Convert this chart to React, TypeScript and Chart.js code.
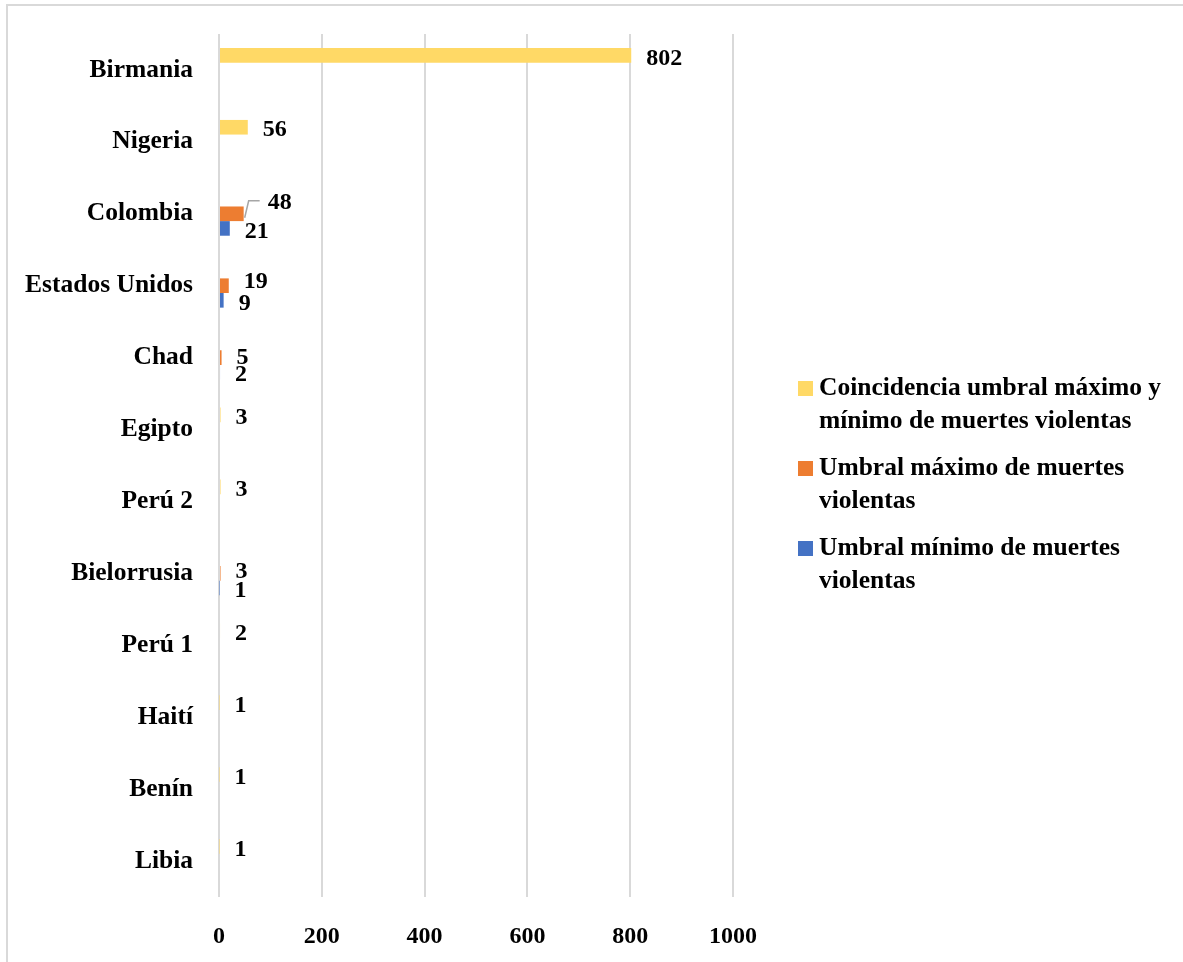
import React, { useEffect, useRef } from "react";
import { Chart, registerables } from "chart.js";

Chart.register(...registerables);

const categories = [
  "Birmania",
  "Nigeria",
  "Colombia",
  "Estados Unidos",
  "Chad",
  "Egipto",
  "Perú 2",
  "Bielorrusia",
  "Perú 1",
  "Haití",
  "Benín",
  "Libia",
];

const coincidencia = [802, 56, null, null, null, 3, 3, null, 2, 1, 1, 1];
const umbralMaximo = [null, null, 48, 19, 5, null, null, 3, null, null, null, null];
const umbralMinimo = [null, null, 21, 9, 2, null, null, 1, null, null, null, null];

const xTicks = [0, 200, 400, 600, 800, 1000];

const seriesNames = [
  ["Coincidencia umbral máximo y", "mínimo de muertes violentas"],
  ["Umbral máximo de muertes", "violentas"],
  ["Umbral mínimo de muertes", "violentas"],
];
const seriesColors = ["#FFD966", "#ED7D31", "#4472C4"];

const FONT = "'Liberation Serif', 'Times New Roman', serif";

// label nudges keyed by "datasetIndex-index" (style only)
const labelNudges: Record<string, { dx: number; dy: number; leader?: boolean }> = {
  "1-2": { dx: 9, dy: -14, leader: true },
  "1-3": { dx: 0, dy: -7 },
  "1-4": { dx: 0, dy: -3 },
  "1-7": { dx: 0, dy: -5 },
};

const valueLabelPlugin = {
  id: "valueLabels",
  afterDatasetsDraw(chart: any) {
    const ctx = chart.ctx;
    ctx.save();
    ctx.font = `bold 24px ${FONT}`;
    ctx.fillStyle = "#000";
    ctx.textAlign = "left";
    ctx.textBaseline = "middle";
    chart.data.datasets.forEach((ds: any, di: number) => {
      const meta = chart.getDatasetMeta(di);
      meta.data.forEach((el: any, i: number) => {
        const v = ds.data[i];
        if (v === null || v === undefined) return;
        const nudge = labelNudges[`${di}-${i}`];
        let x = el.x + 15;
        let y = el.y + 3;
        if (nudge) {
          const tx = x + nudge.dx;
          const ty = y + nudge.dy;
          if (nudge.leader) {
            ctx.save();
            ctx.strokeStyle = "#A6A6A6";
            ctx.lineWidth = 1.5;
            ctx.beginPath();
            ctx.moveTo(el.x + 1, el.y + 4);
            ctx.lineTo(el.x + 5, ty - 2);
            ctx.lineTo(tx - 8, ty - 2);
            ctx.stroke();
            ctx.restore();
          }
          x = tx;
          y = ty;
        }
        ctx.fillText(String(v), x, y);
      });
    });
    ctx.restore();
  },
};

export default function App() {
  const canvasRef = useRef<HTMLCanvasElement>(null);

  useEffect(() => {
    if (!canvasRef.current) return;
    const chart = new Chart(canvasRef.current, {
      type: "bar",
      data: {
        labels: categories,
        datasets: [
          { label: seriesNames[0].join(" "), data: coincidencia, backgroundColor: seriesColors[0] },
          { label: seriesNames[1].join(" "), data: umbralMaximo, backgroundColor: seriesColors[1] },
          { label: seriesNames[2].join(" "), data: umbralMinimo, backgroundColor: seriesColors[2] },
        ],
      },
      options: {
        indexAxis: "y",
        responsive: false,
        animation: false,
        events: [],
        layout: { padding: { left: 0, top: 34, right: 450, bottom: 0 } },
        datasets: {
          bar: { categoryPercentage: 0.61, barPercentage: 1, skipNull: false },
        },
        plugins: {
          legend: { display: false },
          tooltip: { enabled: false },
        },
        scales: {
          x: {
            type: "linear",
            min: 0,
            max: 1000,
            afterBuildTicks: (scale: any) => {
              scale.ticks = xTicks.map((v) => ({ value: v }));
            },
            afterFit: (scale: any) => {
              scale.height = 65;
              scale.paddingLeft = 0;
              scale.paddingRight = 0;
            },
            grid: { color: "#D9D9D9", lineWidth: 2, drawTicks: false },
            border: { display: false },
            ticks: {
              padding: 25,
              color: "#000",
              callback: (v: any) => String(v),
              font: { family: FONT, size: 24, weight: "bold" },
              maxRotation: 0,
            },
          },
          y: {
            type: "category",
            afterFit: (scale: any) => {
              scale.width = 219;
              scale.paddingTop = 0;
              scale.paddingBottom = 0;
            },
            grid: { display: false, drawTicks: false },
            border: { display: false },
            ticks: {
              padding: 26,
              color: "#000",
              autoSkip: false,
              font: { family: FONT, size: 25.5, weight: "bold" },
            },
          },
        },
      } as any,
      plugins: [valueLabelPlugin],
    });
    return () => chart.destroy();
  }, []);

  return (
    <div
      style={{
        position: "fixed",
        left: 0,
        top: 0,
        width: 1183,
        height: 962,
        background: "#fff",
        overflow: "hidden",
        fontFamily: FONT,
      }}
    >
      <div
        style={{
          position: "absolute",
          left: 6,
          top: 4,
          width: 1300,
          height: 1100,
          borderTop: "2px solid #D9D9D9",
          borderLeft: "2px solid #D9D9D9",
        }}
      />
      <canvas
        ref={canvasRef}
        width={1183}
        height={962}
        style={{ position: "absolute", left: 0, top: 0, width: 1183, height: 962 }}
      />
      {seriesNames.map((lines, i) => (
        <div
          key={i}
          style={{
            position: "absolute",
            left: 798,
            top: 370 + i * 80,
            display: "flex",
            alignItems: "flex-start",
          }}
        >
          <div
            style={{
              width: 15,
              height: 15,
              marginTop: 11,
              background: seriesColors[i],
              flex: "0 0 auto",
            }}
          />
          <div
            style={{
              marginLeft: 6,
              fontSize: 25.5,
              fontWeight: "bold",
              lineHeight: "33px",
              color: "#000",
              whiteSpace: "nowrap",
            }}
          >
            {lines.map((l, j) => (
              <div key={j}>{l}</div>
            ))}
          </div>
        </div>
      ))}
    </div>
  );
}
